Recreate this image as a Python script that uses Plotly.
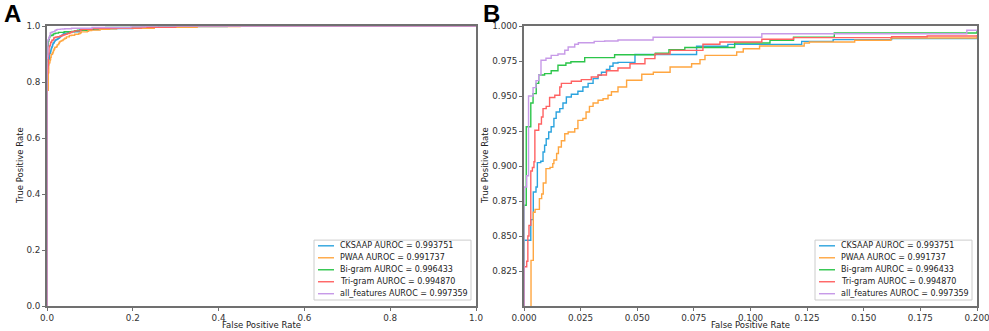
import plotly.graph_objects as go

W, H = 989, 331

# ---------------- data (ROC step vertices) ----------------
names = ["CKSAAP", "PWAA", "Bi-gram", "Tri-gram", "all_features"]
aurocs = ["0.993751", "0.991737", "0.996433", "0.994870", "0.997359"]
colors = ["#2ba3de", "#ffa640", "#2cc54a", "#ff6262", "#c79ae8"]

cksaap_fpr = [0, 0, 0.003, 0.0041, 0.0053, 0.0059, 0.0074, 0.0084, 0.0091, 0.0098, 0.0109, 0.012,
              0.0132, 0.0142, 0.0158, 0.0172, 0.0187, 0.0209, 0.0238, 0.026, 0.0283, 0.0305, 0.0327,
              0.0342, 0.0364, 0.0379, 0.0393, 0.0415, 0.049, 0.0762, 0.09, 0.1226, 0.1365, 0.1623,
              0.2, 0.24, 0.33, 0.42, 1.0]
cksaap_tpr = [0, 0.847, 0.8617, 0.8814, 0.885, 0.9024, 0.9034, 0.910, 0.9148, 0.9195, 0.9243, 0.928,
              0.934, 0.9386, 0.941, 0.945, 0.9493, 0.9512, 0.9534, 0.9564, 0.959, 0.9624, 0.9648,
              0.967, 0.969, 0.9712, 0.9736, 0.974, 0.9796, 0.9855, 0.9869, 0.989, 0.9903, 0.991,
              0.9914, 0.995, 0.998, 1.0, 1.0]

pwaa_fpr = [0, 0, 0.0031, 0.0041, 0.0049, 0.0068, 0.0078, 0.0085, 0.0097, 0.0115, 0.0127, 0.0132,
            0.0144, 0.0152, 0.0165, 0.018, 0.0195, 0.0224, 0.0238, 0.026, 0.0274, 0.0289, 0.0305,
            0.0327, 0.0349, 0.0371, 0.0386, 0.0415, 0.0453, 0.052, 0.0571, 0.0645, 0.074, 0.0777,
            0.0799, 0.0939, 0.0968, 0.104, 0.1237, 0.126, 0.146, 0.162, 0.2, 0.25, 0.35, 0.45, 1.0]
pwaa_tpr = [0, 0.77, 0.8326, 0.867, 0.869, 0.8767, 0.880, 0.8879, 0.8981, 0.899, 0.9017, 0.9043,
            0.9089, 0.9136, 0.918, 0.923, 0.9243, 0.9267, 0.9326, 0.9339, 0.9386, 0.9426, 0.945,
            0.947, 0.948, 0.9505, 0.953, 0.9564, 0.9612, 0.9655, 0.967, 0.9707, 0.973, 0.976,
            0.979, 0.9814, 0.9838, 0.9857, 0.9879, 0.9886, 0.9898, 0.9914, 0.992, 0.995, 0.998, 1.0, 1.0]

bigram_fpr = [0, 0, 0.001, 0.003, 0.004, 0.0054, 0.0065, 0.0091, 0.012, 0.015, 0.0185, 0.0207,
              0.0268, 0.040, 0.058, 0.064, 0.071, 0.093, 0.1086, 0.119, 0.137, 0.2, 0.26, 1.0]
bigram_tpr = [0, 0.872, 0.928, 0.945, 0.9517, 0.959, 0.965, 0.966, 0.968, 0.972, 0.9736, 0.9745,
              0.9774, 0.9795, 0.9805, 0.983, 0.9846, 0.9879, 0.9898, 0.992, 0.995, 0.996, 1.0, 1.0]

trigram_fpr = [0, 0, 0.0012, 0.0017, 0.0022, 0.003, 0.0037, 0.0044, 0.0048, 0.0065, 0.0077, 0.0084,
               0.0098, 0.0113, 0.0136, 0.0158, 0.0165, 0.0209, 0.0253, 0.0297, 0.0327, 0.0364,
               0.0415, 0.0468, 0.0534, 0.0578, 0.0645, 0.079, 0.0865, 0.105, 0.119, 0.1623, 0.178,
               0.2, 0.22, 0.3, 1.0]
trigram_tpr = [0, 0.828, 0.832, 0.850, 0.8576, 0.8964, 0.8989, 0.903, 0.9255, 0.930, 0.935, 0.941,
               0.9426, 0.9489, 0.9505, 0.9564, 0.959, 0.9605, 0.9617, 0.9636, 0.965, 0.968,
               0.970, 0.973, 0.9767, 0.980, 0.9826, 0.987, 0.9886, 0.9905, 0.9917, 0.9923, 0.9929,
               0.993, 0.995, 1.0, 1.0]

allf_fpr = [0, 0, 0.0012, 0.002, 0.004, 0.0053, 0.0065, 0.0075, 0.0097, 0.012, 0.015, 0.018, 0.0195,
            0.0224, 0.024, 0.031, 0.0356, 0.0415, 0.057, 0.105, 0.1955, 0.23, 1.0]
allf_tpr = [0, 0.885, 0.893, 0.95, 0.956, 0.961, 0.965, 0.9755, 0.977, 0.979, 0.980, 0.9827, 0.985,
            0.987, 0.988, 0.989, 0.9893, 0.990, 0.992, 0.9945, 0.997, 1.0, 1.0]

fprs = [cksaap_fpr, pwaa_fpr, bigram_fpr, trigram_fpr, allf_fpr]
tprs = [cksaap_tpr, pwaa_tpr, bigram_tpr, trigram_tpr, allf_tpr]

panelA_ticks = [0.0, 0.2, 0.4, 0.6, 0.8, 1.0]
panelB_xticks = [0.0, 0.025, 0.05, 0.075, 0.1, 0.125, 0.15, 0.175, 0.2]
panelB_yticks = [0.825, 0.85, 0.875, 0.9, 0.925, 0.95, 0.975, 1.0]

# ---------------- layout geometry (pixels) ----------------
A_l, A_r, B_l, B_r = 47, 476, 524, 977
top, bot = 25.5, 306
ML, MR, MT, MB = A_l, W - B_r, top, H - bot
PW, PH = W - ML - MR, H - MT - MB

def X(px):
    return (px - ML) / PW

def Y(py):
    return (H - MB - py) / PH

FONT = "DejaVu Sans"
fig = go.Figure()
for i in range(5):
    for xa, ya in (("x", "y"), ("x2", "y2")):
        fig.add_trace(go.Scatter(
            x=fprs[i], y=tprs[i], mode="lines", line=dict(color=colors[i], width=1.4, shape="hv"),
            xaxis=xa, yaxis=ya, showlegend=False, hoverinfo="skip", cliponaxis=True))

axis_common = dict(showgrid=False, zeroline=False, showline=True, mirror=True,
                   linecolor="#707070", linewidth=1.6, ticks="outside", ticklen=3,
                   tickcolor="#707070", tickwidth=1, automargin=False,
                   ticklabeloverflow="allow",
                   tickfont=dict(family=FONT, size=8.8, color="#333"))

fig.update_layout(
    width=W, height=H, margin=dict(l=ML, r=MR, t=MT, b=MB, autoexpand=False),
    paper_bgcolor="white", plot_bgcolor="white", showlegend=False,
    xaxis=dict(domain=[X(A_l), X(A_r)], range=[0, 1.000001], tickvals=panelA_ticks,
               ticktext=[f"{v:.1f}" for v in panelA_ticks], anchor="y", **axis_common),
    yaxis=dict(domain=[0, 1], range=[0, 1.000001], tickvals=panelA_ticks,
               ticktext=[f"{v:.1f}" for v in panelA_ticks], anchor="x", **axis_common),
    xaxis2=dict(domain=[X(B_l), X(B_r)], range=[0, 0.2000001], tickvals=panelB_xticks,
                ticktext=[f"{v:.3f}" for v in panelB_xticks], anchor="y2", **axis_common),
    yaxis2=dict(domain=[0, 1], range=[0.8, 1.0000001], tickvals=panelB_yticks,
                ticktext=[f"{v:.3f}" for v in panelB_yticks], anchor="x2", **axis_common),
)

ann = []
shapes = []
# panel letters
for letter, px in (("A", 2), ("B", 481)):
    ann.append(dict(text=f"<b>{letter}</b>", x=X(px), y=Y(-3), xref="paper", yref="paper",
                    xanchor="left", yanchor="top", showarrow=False,
                    font=dict(family="Liberation Sans", size=24, color="black")))
# axis titles
for cx in ((A_l + A_r) / 2, (B_l + B_r) / 2):
    ann.append(dict(text="False Positive Rate", x=X(cx), y=Y(325.5), xref="paper", yref="paper",
                    xanchor="center", yanchor="middle", showarrow=False, borderpad=0,
                    font=dict(family=FONT, size=8.5, color="#222")))
for cx in (20, 485):
    ann.append(dict(text="True Positive Rate", x=X(cx), y=Y((top + bot) / 2), xref="paper",
                    yref="paper", xanchor="center", yanchor="middle", showarrow=False, textangle=-90,
                    font=dict(family=FONT, size=8.5, color="#222")))

# legends (lower right of each panel)
for right in (A_r, B_r):
    bx0, bx1 = right - 162, right - 5
    by0, by1 = 240, 300
    shapes.append(dict(type="rect", xref="paper", yref="paper", x0=X(bx0), x1=X(bx1),
                       y0=Y(by1), y1=Y(by0), line=dict(color="#cccccc", width=1),
                       fillcolor="rgba(255,255,255,0.85)", layer="above"))
    for i in range(5):
        ry = 245.7 + 12 * i
        shapes.append(dict(type="line", xref="paper", yref="paper", x0=X(bx0 + 4), x1=X(bx0 + 20),
                           y0=Y(ry), y1=Y(ry), line=dict(color=colors[i], width=1.4), layer="above"))
        ann.append(dict(text=f"{names[i]} AUROC = {aurocs[i]}", x=X(bx0 + 24), y=Y(ry),
                        xref="paper", yref="paper", xanchor="left", yanchor="middle",
                        showarrow=False, font=dict(family=FONT, size=8, color="#222")))

fig.update_layout(annotations=ann, shapes=shapes)
fig.write_html("out.html", config={"displayModeBar": False},
               post_script="document.body.style.margin='0';document.body.style.padding='0';")
